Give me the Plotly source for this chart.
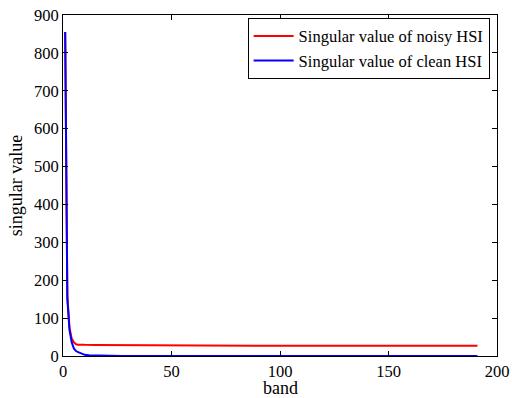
import plotly.graph_objects as go

# Band indices at which the singular values were read (lines join them)
bands_noisy = [1, 2, 3, 4, 5, 6, 7, 8, 10, 15, 20, 30, 40, 41, 60, 100, 150, 191]
noisy_values = [855, 160, 75, 46, 36, 31, 30, 29.6, 29.4, 29.3, 29.2, 29.1, 29.0, 27.2, 27.1, 27.0, 26.9, 26.8]

bands_clean = [1, 2, 3, 4, 5, 6, 7, 8, 9, 10, 12, 15, 20, 26, 27, 60, 100, 150, 191]
clean_values = [855, 150, 68, 36, 20, 13, 10, 7.5, 5.5, 3, 2, 1.8, 1.6, 1.4, 0.3, 0.2, 0.15, 0.1, 0.1]

x_ticks = [0, 50, 100, 150, 200]
y_ticks = [0, 100, 200, 300, 400, 500, 600, 700, 800, 900]

font = "Liberation Serif"

fig = go.Figure()
fig.add_trace(go.Scatter(x=bands_noisy, y=noisy_values, mode="lines",
                         line=dict(color="#ff0000", width=2),
                         name="Singular value of noisy HSI"))
fig.add_trace(go.Scatter(x=bands_clean, y=clean_values, mode="lines",
                         line=dict(color="#0000ff", width=2),
                         name="Singular value of clean HSI"))

axis_common = dict(showgrid=False, zeroline=False, showline=True, linecolor="black",
                   linewidth=1, mirror="ticks", ticks="inside", ticklen=5,
                   tickcolor="black", automargin=False,
                   tickfont=dict(family=font, size=16.5, color="black"))

fig.update_layout(
    width=512, height=398,
    margin=dict(l=63, r=15, t=15, b=42),
    paper_bgcolor="white", plot_bgcolor="white",
    font=dict(family=font),
    xaxis=dict(range=[0, 200], tickvals=x_ticks, **axis_common),
    yaxis=dict(range=[0, 900], tickvals=y_ticks, **axis_common,
               title=dict(text="singular value", font=dict(family=font, size=18, color="black"), standoff=6)),
    legend=dict(x=0.983, y=0.992, xanchor="right", yanchor="top",
                bordercolor="black", borderwidth=1, bgcolor="white",
                font=dict(family=font, size=16.5, color="black"),
                tracegroupgap=0, itemwidth=40),
    showlegend=True,
)
fig.add_annotation(text="band", xref="paper", yref="paper", x=0.5, y=-0.094,
                   xanchor="center", yanchor="middle", showarrow=False,
                   font=dict(family=font, size=18, color="black"))

fig.write_html("out.html")
